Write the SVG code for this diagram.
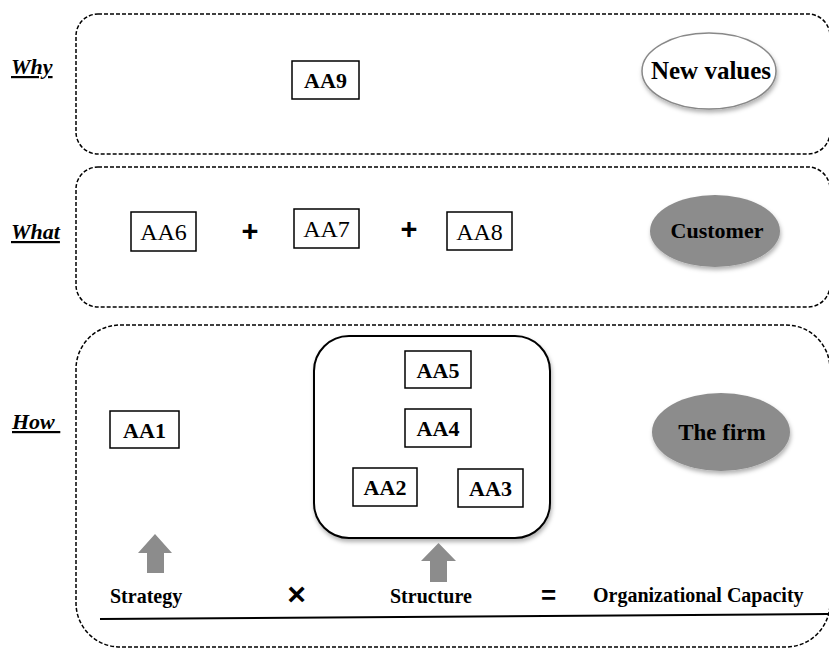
<svg xmlns="http://www.w3.org/2000/svg" width="829" height="648" viewBox="0 0 829 648">
<defs>
<filter id="sh" x="-20%" y="-20%" width="140%" height="150%">
<feDropShadow dx="1" dy="3" stdDeviation="2" flood-color="#000" flood-opacity="0.3"/>
</filter>
</defs>
<style>
.zone{fill:none;stroke:#000;stroke-width:1.5;stroke-dasharray:4 2}
.box{fill:#fff;stroke:#000;stroke-width:1.5}
.lbl{font-family:"Liberation Serif",serif;font-weight:bold;font-style:italic;font-size:22px;text-decoration:underline}
.b{font-family:"Liberation Serif",serif;font-weight:bold;font-size:22px;text-anchor:middle}
.r{font-family:"Liberation Serif",serif;font-size:24px;text-anchor:middle}
.sm{font-family:"Liberation Serif",serif;font-weight:bold;font-size:20px}
.op{font-family:"Liberation Sans",sans-serif;font-weight:bold;text-anchor:middle}
.arr{fill:#8c8c8c}
</style>
<g id="zones">
<rect class="zone" x="76" y="14" width="754" height="140" rx="22"/>
<rect class="zone" x="76" y="167" width="754" height="140" rx="22"/>
<rect class="zone" x="76" y="325" width="754" height="322" rx="44"/>
</g>
<g id="labels">
<text class="lbl" x="11" y="74">Why</text>
<text class="lbl" x="11" y="239">What</text>
<text class="lbl" x="12" y="429" xml:space="preserve">How </text>
</g>
<g id="AA9"><rect class="box" x="292" y="61" width="67" height="38"/><text class="b" x="325.5" y="88">AA9</text></g>
<g id="newvalues"><ellipse cx="709" cy="71" rx="67" ry="38" fill="#fff" stroke="#888" stroke-width="1.5" filter="url(#sh)"/><text class="b" x="711" y="79" style="font-size:25px">New values</text></g>
<g id="AA6"><rect class="box" x="131" y="212" width="65" height="39"/><text class="r" x="163.5" y="240">AA6</text></g>
<g id="AA7"><rect class="box" x="294" y="209" width="65" height="39"/><text class="r" x="326.5" y="237">AA7</text></g>
<g id="AA8"><rect class="box" x="447" y="212" width="65" height="38"/><text class="r" x="479.5" y="240">AA8</text></g>
<g id="plus"><text class="op" x="250" y="241" font-size="29">+</text><text class="op" x="409" y="239" font-size="29">+</text></g>
<g id="customer"><ellipse cx="715" cy="231" rx="65" ry="36" fill="#8c8c8c" filter="url(#sh)"/><text class="b" x="717" y="238">Customer</text></g>
<g id="AA1"><rect class="box" x="110" y="411" width="69" height="37"/><text class="b" x="144.5" y="438">AA1</text></g>
<g id="structurebox"><rect x="314" y="336" width="236" height="202" rx="35" fill="#fff" stroke="#000" stroke-width="2" filter="url(#sh)"/></g>
<g id="AA5"><rect class="box" x="405" y="351" width="66" height="37"/><text class="b" x="438" y="378">AA5</text></g>
<g id="AA4"><rect class="box" x="405" y="409" width="66" height="38"/><text class="b" x="438" y="436">AA4</text></g>
<g id="AA2"><rect class="box" x="353" y="468" width="64" height="38"/><text class="b" x="385" y="495">AA2</text></g>
<g id="AA3"><rect class="box" x="458" y="469" width="65" height="38"/><text class="b" x="490.5" y="496">AA3</text></g>
<g id="thefirm"><ellipse cx="721" cy="432" rx="69" ry="39" fill="#8c8c8c" filter="url(#sh)"/><text class="b" x="722" y="440" style="font-size:23px">The firm</text></g>
<g id="connectors">
<polygon class="arr" points="155,534 172,553 164,553 164,573 147,573 147,553 138,553"/>
<polygon class="arr" points="438.5,543 456,561 447,561 447,582 430,582 430,561 421,561"/>
<line x1="100" y1="619" x2="828" y2="614" stroke="#000" stroke-width="2"/>
</g>
<g id="formula">
<text class="sm" x="110" y="603">Strategy</text>
<text class="op" x="296.5" y="605" font-size="32">×</text>
<text class="sm" x="390" y="603">Structure</text>
<text class="op" x="548.5" y="604" font-size="26">=</text>
<text class="sm" x="593" y="602">Organizational Capacity</text>
</g>
</svg>
